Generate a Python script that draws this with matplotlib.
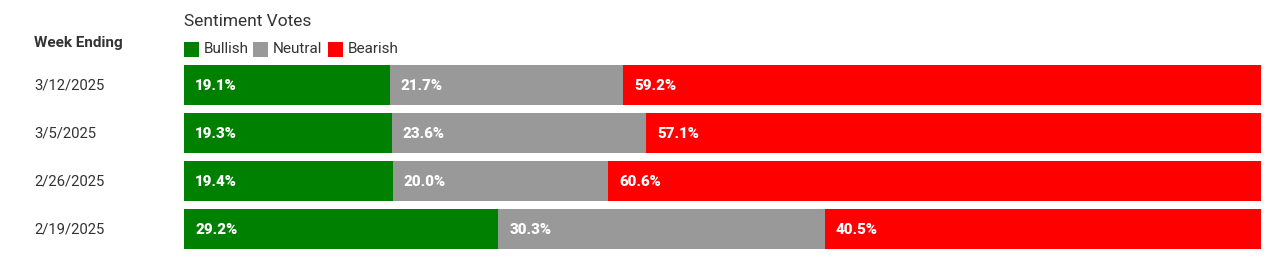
import numpy as np
import matplotlib.pyplot as plt
from matplotlib.transforms import blended_transform_factory
from matplotlib.patches import Rectangle

weeks = ['3/12/2025', '3/5/2025', '2/26/2025', '2/19/2025']
bullish = [19.1, 19.3, 19.4, 29.2]
neutral = [21.7, 23.6, 20.0, 30.3]
bearish = [59.2, 57.1, 60.6, 40.5]

series = [('Bullish', bullish, '#008000'),
          ('Neutral', neutral, '#999999'),
          ('Bearish', bearish, '#ff0000')]

font = ['Roboto', 'DejaVu Sans']

W, H = 1270, 256
fig = plt.figure(figsize=(W / 100, H / 100), dpi=100)
# axes covers exactly the bar block (px: x 184..1261, y 65..249)
ax = fig.add_axes([184 / W, 7 / H, (1261 - 184) / W, (249 - 65) / H])

bar_h = 40 / 48
y = np.arange(len(weeks))
left = np.zeros(len(weeks))
for name, vals, col in series:
    vals = np.array(vals)
    ax.barh(y, vals, left=left, height=bar_h, color=col, linewidth=0)
    for yi, l, v in zip(y, left, vals):
        ax.annotate(f'{v:.1f}%', (l, yi), xytext=(11, -1), textcoords='offset pixels',
                    ha='left', va='center', color='white', fontsize=10.8,
                    fontweight='black', family=font)
    left = left + vals

ax.set_xlim(0, 100)
ax.set_ylim(len(weeks) - 1 + bar_h / 2, -bar_h / 2)
ax.axis('off')

# week labels
tr = blended_transform_factory(fig.transFigure, ax.transData)
for yi, w in zip(y, weeks):
    ax.text(34 / W, yi, w, transform=tr, ha='left', va='center',
            fontsize=10.7, color='#333333', family=font)

fig.text(34 / W, 1 - 43 / H, 'Week Ending', ha='left', va='center',
         fontsize=11, fontweight='bold', color='#333333', family=font)
fig.text(184 / W, 1 - 21.5 / H, 'Sentiment Votes', ha='left', va='center',
         fontsize=12.5, color='#333333', family=font)

# legend
leg_x = [184, 253, 328]
for (name, _, col), lx in zip(series, leg_x):
    fig.patches.append(Rectangle((lx / W, 1 - 57 / H), 15 / W, 15 / H,
                                 transform=fig.transFigure, color=col, linewidth=0))
    fig.text((lx + 20) / W, 1 - 49 / H, name, ha='left', va='center',
             fontsize=11, color='#333333', family=font)

fig.savefig('out.png', dpi=100)
